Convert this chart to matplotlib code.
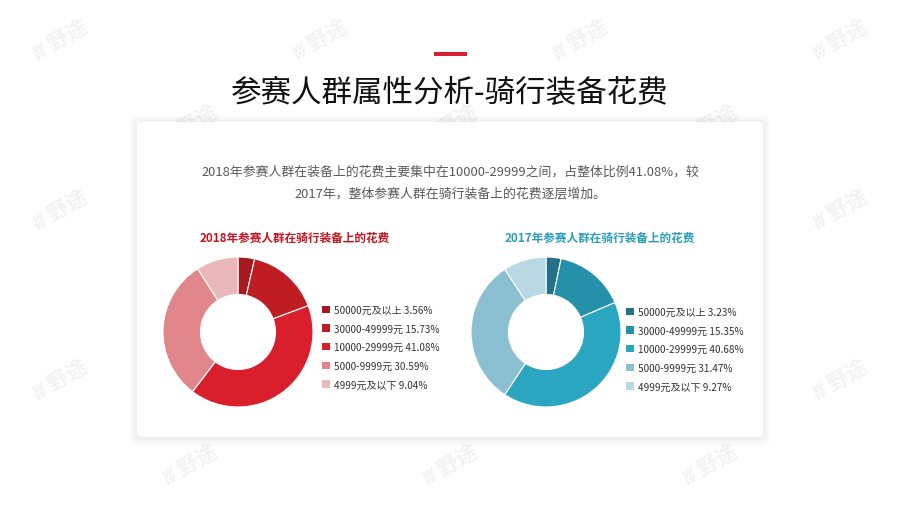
import matplotlib
matplotlib.use('Agg')
import matplotlib.pyplot as plt
import matplotlib.patches as patches

plt.rcParams['font.family'] = ['Noto Sans CJK SC', 'DejaVu Sans']

title = '参赛人群属性分析-骑行装备花费'
intro = ['2018年参赛人群在装备上的花费主要集中在10000-29999之间，占整体比例41.08%，较',
         '2017年，整体参赛人群在骑行装备上的花费逐层增加。']

categories = ['50000元及以上', '30000-49999元', '10000-29999元', '5000-9999元', '4999元及以下']
share_2018 = [3.56, 15.73, 41.08, 30.59, 9.04]
share_2017 = [3.23, 15.35, 40.68, 31.47, 9.27]

colors_2018 = ['#a8191f', '#bf1c24', '#d91f2c', '#e0868a', '#ebb8ba']
colors_2017 = ['#23728a', '#2590a9', '#2ba6c1', '#8bbfd2', '#b8d9e4']

W, H = 900, 506
fig = plt.figure(figsize=(9, 5.06), dpi=100, facecolor='white')

def fx(px):
    return px / W

def fy(py):
    return 1 - py / H

# faint watermark, kept inside the picture
for r, yy in enumerate([40, 125, 210, 295, 380, 465]):
    off = 0 if r % 2 == 0 else 130
    for xx in range(60 + off, 860, 260):
        fig.text(fx(xx), fy(yy), 'ʬ 野途', fontsize=15, color='#f2f2f2',
                 rotation=30, fontweight='bold', style='italic',
                 ha='center', va='center', zorder=0)

# card with soft shadow
for g in range(8, 0, -1):
    fig.patches.append(patches.FancyBboxPatch(
        (fx(137 - g), fy(438 + g + 1)), fx(626 + 2 * g), (315 + 2 * g) / H,
        boxstyle='round,pad=0,rounding_size=0.01', transform=fig.transFigure,
        facecolor='black', edgecolor='none', alpha=0.008, zorder=1))
fig.patches.append(patches.FancyBboxPatch(
    (fx(137), fy(438)), fx(626), 315 / H,
    boxstyle='round,pad=0,rounding_size=0.006', transform=fig.transFigure,
    facecolor='white', edgecolor='none', zorder=2))

# accent bar and title
fig.patches.append(patches.Rectangle((fx(434), fy(57)), fx(33), 4 / H,
                                     transform=fig.transFigure, facecolor='#d7202b',
                                     edgecolor='none', zorder=3))
fig.text(0.5, fy(93), title, fontsize=22, color='#111111', ha='center', va='center', zorder=3)

fig.text(0.5, fy(172), intro[0], fontsize=9.3, color='#595959', ha='center', va='center', zorder=3)
fig.text(0.5, fy(194), intro[1], fontsize=9.3, color='#595959', ha='center', va='center', zorder=3)


def donut(cx, cy, values, colors, head, head_color, hx, lx, ly):
    fig.text(fx(hx), fy(238), head, fontsize=8.4, fontweight='bold', color=head_color,
             ha='center', va='center', zorder=3)
    r = 75
    ax = fig.add_axes([fx(cx - r), fy(cy + r), fx(2 * r), 2 * r / H], zorder=4)
    ax.patch.set_alpha(0)
    ax.pie(values, colors=colors, startangle=90, counterclock=False,
           radius=1, wedgeprops=dict(width=0.5, edgecolor='white', linewidth=0.8))
    ax.set_xlim(-1, 1)
    ax.set_ylim(-1, 1)
    ax.set_aspect('auto')
    ax.axis('off')
    labels = [f'{c} {v:.2f}%' for c, v in zip(categories, values)]
    handles = [patches.Patch(facecolor=c, edgecolor='none') for c in colors]
    fig.legend(handles, labels, loc='upper left', bbox_to_anchor=(fx(lx), fy(ly)),
               frameon=False, fontsize=7.2, labelcolor='#333333', handlelength=0.75,
               handleheight=0.75, handletextpad=0.5, labelspacing=0.86, borderpad=0,
               borderaxespad=0)


donut(238, 333, share_2018, colors_2018, '2018年参赛人群在骑行装备上的花费', '#c8141e', 295, 322, 306)
donut(546, 333, share_2017, colors_2017, '2017年参赛人群在骑行装备上的花费', '#2a9dbb', 600, 626, 308)

fig.savefig('out.png', dpi=100, facecolor='white')
